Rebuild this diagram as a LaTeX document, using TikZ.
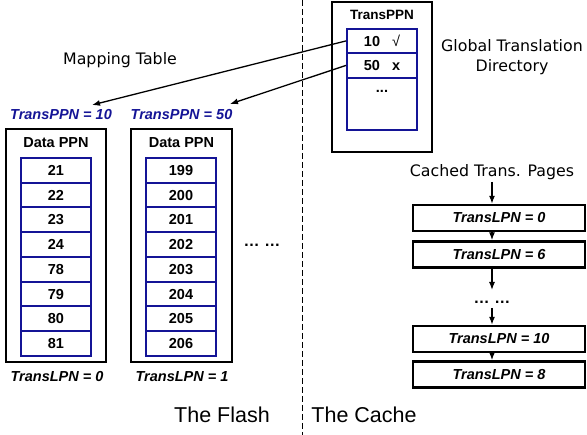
\documentclass[tikz,border=0pt]{standalone}
\usepackage{fontspec}
\setmainfont{Liberation Sans}
\newfontfamily\lblfont{DejaVu Sans}
\usetikzlibrary{arrows.meta}
\definecolor{navy}{RGB}{20,20,150}
\begin{document}
\begin{tikzpicture}[x=1pt,y=-1pt,
  outerbox/.style={draw, line width=2.4pt, inner sep=0pt},
  cell/.style={draw=navy, line width=1.8pt, minimum width=70pt, minimum height=24.75pt,
    inner sep=0pt, anchor=north, font=\fontsize{14.5}{16}\selectfont\bfseries},
  cachebox/.style={draw, line width=2.4pt, minimum width=172pt, minimum height=26pt,
    inner sep=0pt, font=\fontsize{14.5}{17}\selectfont\bfseries\itshape},
  boldlbl/.style={inner sep=0pt, font=\fontsize{14.5}{17}\selectfont\bfseries\itshape},
  bluelbl/.style={boldlbl, text=navy},
  head/.style={inner sep=0pt, font=\fontsize{14.5}{17}\selectfont\bfseries},
  dots/.style={inner sep=0pt, font=\fontsize{16}{17}\selectfont\bfseries},
  note/.style={inner sep=0pt, align=center, font=\lblfont\fontsize{15.8}{20}\selectfont},
  big/.style={inner sep=0pt, font=\fontsize{21.5}{24}\selectfont},
  arr/.style={-{Latex[length=8pt,width=6pt]}, line width=1.3pt}]
\useasboundingbox (0,0) rectangle (587,435);

% flash / cache divider
\coordinate (divtop) at (302,0);
\coordinate (divbot) at (302,435);
\draw[line width=0.8pt, dash pattern=on 6pt off 3pt] (divtop) -- (divbot);

% translation pages stored in flash
\node[outerbox, minimum width=100pt, minimum height=233pt] (pageA) at (56,245.5) {};
\node[outerbox, minimum width=101pt, minimum height=233pt] (pageB) at (181.5,245.5) {};
\node[head] (hA) at (56,143) {Data PPN};
\node[head] (hB) at (181.5,143) {Data PPN};
\foreach \v [count=\i from 0] in {21,22,23,24,78,79,80,81}
  \node[cell] (a\i) at (56,157+24.75*\i) {\v};
\foreach \v [count=\i from 0] in {199,200,201,202,203,204,205,206}
  \node[cell] (b\i) at (181,157+24.75*\i) {\v};
\node[bluelbl] (ppnA) at (61,115) {TransPPN = 10};
\node[bluelbl] (ppnB) at (181.5,115) {TransPPN = 50};
\node[boldlbl] (lpnA) at (57,377) {TransLPN = 0};
\node[boldlbl] (lpnB) at (182,377) {TransLPN = 1};
\node[dots, anchor=base] (fdots) at (262,247) {…\hspace{5pt}…};
\node[big] (flash) at (222,415) {The Flash};
\node[big] (cache) at (364,415) {The Cache};

% global translation directory
\node[outerbox, minimum width=100pt, minimum height=150pt] (gtd) at (382,77) {};
\node[head, font=\fontsize{13.5}{16}\selectfont\bfseries] (gtdh) at (382,15) {TransPPN};
\node[cell, minimum height=24pt] (g1) at (382,28) {10\hspace{12pt}{\mdseries √}};
\node[cell, minimum height=25pt] (g2) at (382,52) {50\hspace{12pt}x};
\node[cell, minimum height=52pt, anchor=north] (g3) at (382,77) {};
\node[head] (gdots) at (382,91) {...};
\node[note] (gtdlbl) at (512,57) {Global Translation\\Directory};
\node[note] (maplbl) at (120,60) {Mapping Table};

% mapping arrows
\coordinate (t10) at (92,105);
\coordinate (t50) at (230,104);
\draw[arr] (g1.west) -- (t10);
\draw[arr] (g2.west) -- (t50);

% cached translation pages
\node[note] (cached) at (492,172) {Cached Trans. Pages};
\node[cachebox] (c1) at (499,218) {TransLPN = 0};
\node[cachebox] (c2) at (499,254.5) {TransLPN = 6};
\node[dots, anchor=base] (cdots) at (492,304) {…\hspace{5pt}…};
\coordinate (dtop) at (492,290);
\coordinate (dbot) at (492,308);
\node[cachebox] (c3) at (499,339) {TransLPN = 10};
\node[cachebox] (c4) at (499,374.5) {TransLPN = 8};
\draw[arr] ([yshift=-2pt]cached.south) -- ([xshift=-7pt]c1.north);
\draw[arr] ([xshift=-7pt]c1.south) -- ([xshift=-7pt]c2.north);
\draw[arr] ([xshift=-7pt]c2.south) -- (dtop);
\draw[arr] (dbot) -- ([xshift=-7pt]c3.north);
\draw[arr] ([xshift=-7pt]c3.south) -- ([xshift=-7pt]c4.north);
\end{tikzpicture}
\end{document}
